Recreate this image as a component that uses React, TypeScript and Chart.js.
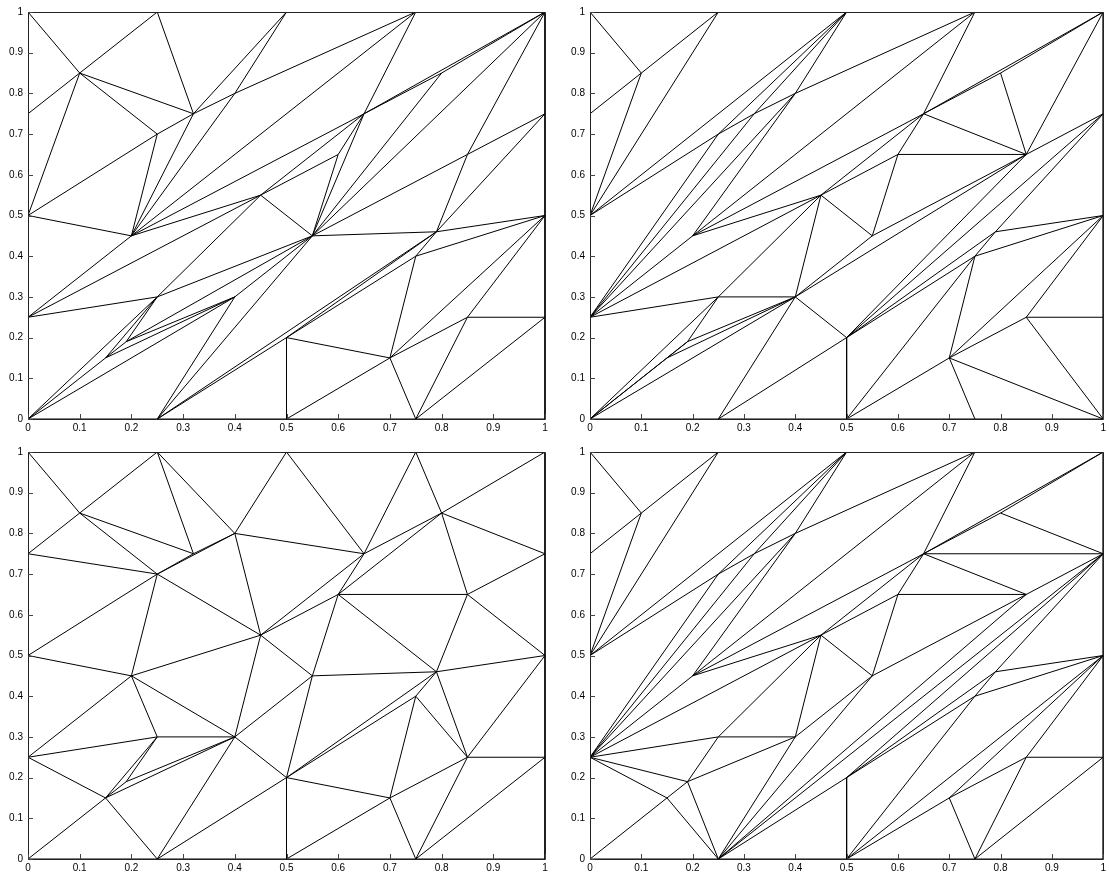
import React, { useEffect, useRef } from "react";
import { Chart, registerables } from "chart.js";

Chart.register(...registerables);

// mesh nodes (ids, x, y)
const nodeIds = ["00","0q","0h","0t","01","q1","h1","t1","11","1t","1h","1q","10","t0","h0","q0",
  "a","b","c","d","e","f","g","h","i","j","k","l","m","n","o","p","q","r","s","t"];
const nodeX = [0,0,0,0,0,0.25,0.5,0.75,1,1,1,1,1,0.75,0.5,0.25,
  0.1,0.32,0.25,0.4,0.45,0.65,0.6,0.8,0.85,0.2,0.25,0.4,0.55,0.79,0.75,0.85,0.7,0.5,0.15,0.19];
const nodeY = [0,0.25,0.5,0.75,1,1,1,1,1,0.75,0.5,0.25,0,0,0,0,
  0.85,0.75,0.7,0.8,0.55,0.75,0.65,0.85,0.65,0.45,0.3,0.3,0.45,0.46,0.4,0.25,0.15,0.2,0.15,0.19];

const boundaryEdges = ["00-0q","0q-0h","0h-0t","0t-01","01-q1","q1-h1","h1-t1","t1-11","11-1t","1t-1h","1h-1q","1q-10","10-t0","t0-h0","h0-q0","q0-00"];

const edgesTopLeft = ["01-a","a-q1","0t-a","a-0h","a-b","a-c","q1-b","0h-c","c-b","c-j","b-j","h1-b","h1-d","d-j","b-d","d-t1","t1-j","0h-j","j-0q","j-f","t1-f","f-h","h-11","f-11","f-m","j-e","0q-e","e-g","g-f","g-m","e-f","e-m","h-m","11-m","11-i","i-1t","i-m","i-n","n-1t","m-n","0q-k","k-e","k-m","t-m","l-m","k-s","k-t","s-t","t-l","s-l","00-s","00-k","00-l","q0-l","q0-m","q0-n","q0-r","r-n","r-o","r-q","r-h0","q-h0","q-t0","q-o","q-p","q-1h","o-n","o-1h","n-1h","p-1h","p-1q","p-t0","t0-1q"];

const edgesTopRight = ["01-a","a-q1","0t-a","a-0h","q1-0h","0h-h1","0h-c","c-h1","c-b","b-h1","b-d","d-h1","d-t1","0q-c","0q-b","0q-d","0q-j","j-d","j-t1","j-f","t1-f","j-e","e-f","0q-e","0q-k","k-e","f-h","h-11","f-11","h-i","11-i","f-i","i-1t","g-f","g-i","e-g","g-m","e-m","l-e","k-l","l-m","i-m","l-i","l-r","r-i","r-1t","r-n","1t-n","n-1h","r-o","o-n","o-1h","o-q","h0-o","q-h0","r-h0","q-t0","q-10","q-p","p-10","p-1q","p-1h","q-1h","q0-l","q0-r","00-k","00-t","t-k","s-t","00-s","t-l","s-l","00-l"];

const edgesBottomLeft = ["01-a","a-q1","0t-a","q1-b","q1-d","a-b","a-c","0t-c","c-b","b-d","c-d","h1-d","h1-f","d-f","d-e","c-e","0h-c","c-j","e-f","e-g","f-g","t1-f","t1-h","f-h","g-h","11-h","h-1t","h-i","g-i","i-1t","i-1h","g-m","g-n","i-n","e-l","e-m","j-e","0h-j","j-0q","j-k","j-l","0q-k","k-l","0q-s","00-s","s-q0","s-k","s-t","t-k","t-l","s-l","l-q0","l-r","l-m","q0-r","r-h0","r-m","r-n","r-o","r-q","h0-q","q-t0","q-o","q-p","o-n","o-p","n-p","m-n","n-1h","p-1h","p-1q","p-t0","t0-1q"];

const edgesBottomRight = ["01-a","a-q1","0t-a","a-0h","q1-0h","0h-h1","0h-c","c-h1","c-b","b-h1","b-d","d-h1","d-t1","0q-c","0q-b","0q-d","0q-j","j-d","j-t1","j-f","t1-f","j-e","e-f","0q-e","f-h","h-11","f-11","h-1t","f-1t","f-i","i-1t","g-f","g-i","e-g","k-e","k-l","l-e","l-m","e-m","g-m","i-m","q0-l","q0-m","q0-i","q0-1t","q0-r","r-1t","r-h0","r-n","n-1t","n-1h","h0-o","o-n","r-o","o-1h","h0-1h","h0-q","q-1h","q-t0","q-p","p-1h","t0-p","p-1q","t0-1q","0q-k","t-k","0q-t","t-l","t-q0","0q-s","s-t","00-s","s-q0"];

const tickValues = [0,0.1,0.2,0.3,0.4,0.5,0.6,0.7,0.8,0.9,1];
const tickLabels = ["0","0.1","0.2","0.3","0.4","0.5","0.6","0.7","0.8","0.9","1"];

function buildSegments(edges: string[]) {
  const out: { x: number; y: number | null }[] = [];
  const all = boundaryEdges.concat(edges);
  for (const e of all) {
    const [p, q] = e.split("-");
    const i1 = nodeIds.indexOf(p);
    const i2 = nodeIds.indexOf(q);
    if (i1 < 0 || i2 < 0) continue;
    out.push({ x: nodeX[i1], y: nodeY[i1] });
    out.push({ x: nodeX[i2], y: nodeY[i2] });
    out.push({ x: nodeX[i2], y: null });
  }
  return out;
}

const framePlugin = {
  id: "frameTicks",
  afterDraw(chart: any) {
    const { ctx, chartArea, scales } = chart;
    const { left, top, right, bottom } = chartArea;
    ctx.save();
    ctx.strokeStyle = "#222";
    ctx.lineWidth = 1;
    ctx.beginPath();
    ctx.rect(Math.round(left) + 0.5, Math.round(top) + 0.5, Math.round(right - left), Math.round(bottom - top));
    ctx.stroke();
    ctx.strokeStyle = "#444";
    ctx.beginPath();
    for (const v of tickValues) {
      const px = Math.round(scales.x.getPixelForValue(v)) + 0.5;
      ctx.moveTo(px, bottom);
      ctx.lineTo(px, bottom - 5);
      const py = Math.round(scales.y.getPixelForValue(v)) + 0.5;
      ctx.moveTo(left, py);
      ctx.lineTo(left + 5, py);
    }
    ctx.stroke();
    ctx.restore();
  },
};

const tickFont = { family: "'Liberation Sans', Arial, Helvetica, sans-serif", size: 10 };

function Panel({ edges, left, top, width, height, padRight }: any) {
  const ref = useRef<HTMLCanvasElement | null>(null);
  useEffect(() => {
    if (!ref.current) return;
    const chart = new Chart(ref.current, {
      type: "line",
      data: {
        datasets: [
          {
            data: buildSegments(edges) as any,
            borderColor: "#000",
            borderWidth: 1,
            pointRadius: 0,
            pointHoverRadius: 0,
            spanGaps: false,
            fill: false,
            tension: 0,
          },
        ],
      },
      options: {
        animation: false,
        responsive: false,
        maintainAspectRatio: false,
        events: [],
        layout: { autoPadding: false, padding: { left: 0, top: 12, right: padRight, bottom: 0 } },
        plugins: { legend: { display: false }, tooltip: { enabled: false }, title: { display: false } },
        scales: {
          x: {
            type: "linear",
            min: 0,
            max: 1,
            grid: { display: false, drawTicks: false },
            border: { display: false },
            afterBuildTicks: (s: any) => { s.ticks = tickValues.map((v) => ({ value: v })); },
            afterFit: (s: any) => { s.height = 21; },
            ticks: {
              autoSkip: false,
              maxRotation: 0,
              padding: 3,
              color: "#000",
              font: tickFont,
              callback: (_v: any, i: number) => tickLabels[i],
            },
          },
          y: {
            type: "linear",
            min: 0,
            max: 1,
            grid: { display: false, drawTicks: false },
            border: { display: false },
            afterBuildTicks: (s: any) => { s.ticks = tickValues.map((v) => ({ value: v })); },
            afterFit: (s: any) => { s.width = 28; },
            ticks: {
              autoSkip: false,
              padding: 5,
              color: "#000",
              font: tickFont,
              callback: (_v: any, i: number) => tickLabels[i],
            },
          },
        },
      },
      plugins: [framePlugin],
    } as any);
    return () => chart.destroy();
  }, [edges]);
  return (
    <canvas
      ref={ref}
      width={width}
      height={height}
      style={{ position: "absolute", left, top, width, height }}
    />
  );
}

export default function App() {
  return (
    <div style={{ position: "absolute", left: 0, top: 0, width: 1109, height: 878, overflow: "hidden", background: "#fff" }}>
      <Panel edges={edgesTopLeft} left={0} top={0} width={565} height={440} padRight={20} />
      <Panel edges={edgesTopRight} left={562} top={0} width={547} height={440} padRight={2} />
      <Panel edges={edgesBottomLeft} left={0} top={440} width={565} height={440} padRight={20} />
      <Panel edges={edgesBottomRight} left={562} top={440} width={547} height={440} padRight={2} />
    </div>
  );
}
